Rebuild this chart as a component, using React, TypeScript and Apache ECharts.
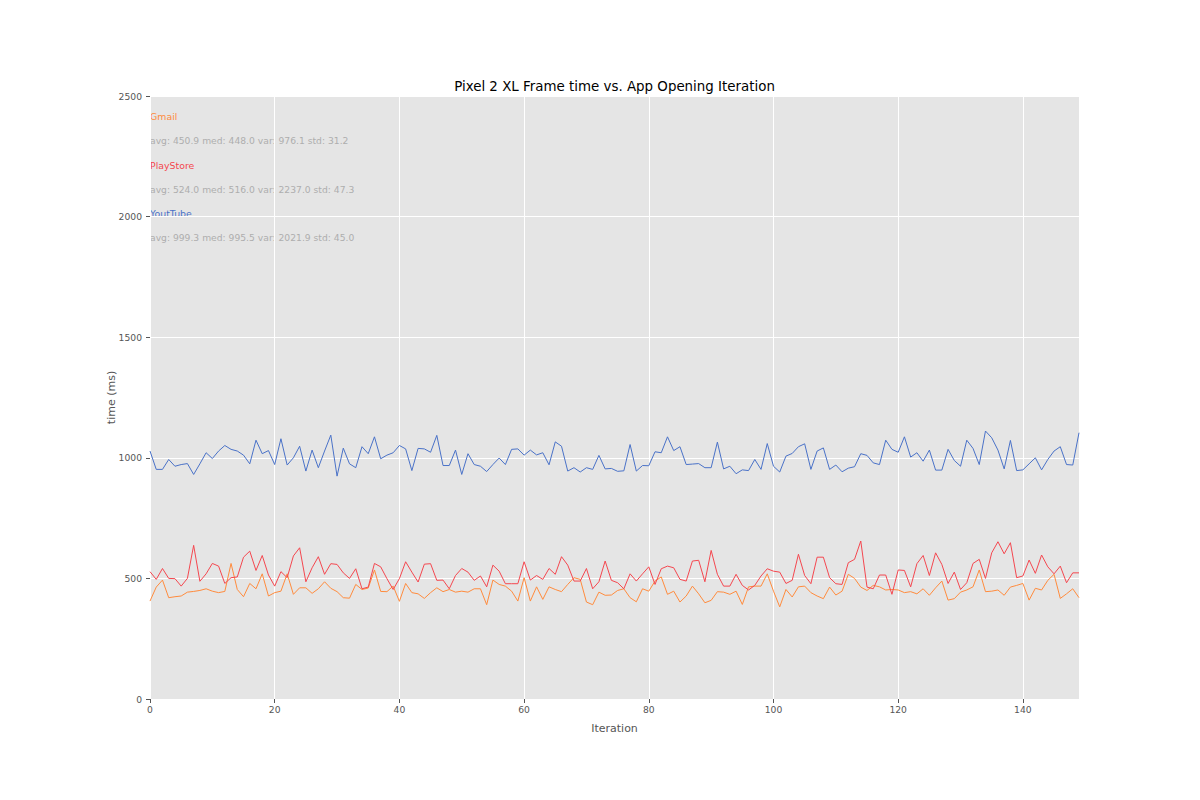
import React, { useEffect, useRef } from "react";
import * as echarts from "echarts";

const iterations: number[] = Array.from({ length: 150 }, (_, i) => i);

const gmail: number[] = [
  406, 464, 493, 420, 424, 427, 443, 446, 450, 457,
  447, 441, 446, 562, 454, 424, 479, 457, 519, 427,
  441, 447, 519, 434, 461, 461, 438, 457, 486, 459,
  445, 420, 418, 475, 454, 460, 535, 446, 445, 468,
  405, 479, 441, 436, 417, 441, 461, 445, 454, 443,
  447, 443, 457, 457, 391, 493, 475, 468, 447, 406,
  503, 406, 465, 413, 465, 454, 445, 475, 503, 496,
  402, 391, 443, 430, 431, 450, 457, 420, 403, 457,
  447, 489, 506, 434, 447, 402, 427, 468, 436, 399,
  409, 445, 443, 434, 447, 392, 465, 468, 468, 519,
  447, 382, 454, 423, 465, 468, 441, 427, 416, 464,
  431, 447, 517, 500, 464, 450, 471, 465, 452, 454,
  452, 441, 445, 436, 457, 430, 461, 489, 410, 416,
  443, 452, 465, 535, 445, 447, 452, 430, 464, 471,
  479, 410, 459, 452, 492, 517, 417, 436, 457, 420,
];

const playStore: number[] = [
  528, 496, 541, 500, 499, 468, 500, 637, 488, 519,
  562, 551, 479, 503, 506, 588, 613, 533, 595, 514,
  468, 528, 503, 593, 627, 486, 544, 590, 517, 561,
  558, 523, 500, 540, 457, 464, 562, 548, 499, 454,
  499, 569, 526, 485, 559, 561, 492, 493, 457, 512,
  541, 526, 492, 510, 465, 555, 530, 478, 478, 478,
  569, 493, 512, 496, 541, 517, 590, 555, 489, 489,
  541, 457, 486, 572, 492, 482, 457, 519, 489, 519,
  548, 475, 540, 551, 544, 496, 489, 572, 575, 486,
  616, 517, 468, 468, 517, 471, 452, 471, 510, 540,
  530, 526, 479, 492, 600, 512, 478, 588, 588, 503,
  478, 475, 565, 579, 655, 464, 457, 514, 514, 434,
  535, 533, 465, 561, 595, 512, 606, 558, 479, 526,
  454, 482, 562, 579, 500, 606, 652, 602, 648, 503,
  510, 576, 521, 597, 548, 519, 551, 482, 523, 523,
];

const youTube: number[] = [
  1028, 952, 952, 993, 965, 972, 976, 931, 975, 1021,
  997, 1028, 1051, 1035, 1028, 1011, 975, 1073, 1017, 1030,
  972, 1079, 970, 1000, 1048, 945, 1032, 959, 1028, 1094,
  924, 1040, 975, 959, 1046, 1017, 1087, 996, 1011, 1021,
  1051, 1037, 947, 1039, 1037, 1023, 1093, 968, 968, 1032,
  931, 1017, 972, 965, 943, 972, 999, 972, 1035, 1037,
  1011, 1032, 1012, 1021, 971, 1066, 1048, 945, 959, 941,
  959, 952, 1010, 954, 956, 944, 946, 1055, 945, 968,
  967, 1025, 1021, 1087, 1030, 1046, 972, 974, 976, 959,
  959, 1065, 954, 965, 934, 950, 947, 993, 952, 1059,
  965, 941, 1007, 1018, 1046, 1058, 952, 1028, 1041, 952,
  970, 942, 957, 963, 1017, 1010, 979, 972, 1073, 1035,
  1023, 1087, 1003, 1021, 986, 1032, 949, 949, 1035, 989,
  965, 1073, 1039, 972, 1111, 1083, 1032, 954, 1072, 947,
  950, 975, 1000, 950, 993, 1028, 1046, 972, 970, 1104,
];

const seriesNames: string[] = ["Gmail", "PlayStore", "YoutTube"];
const seriesColors: string[] = ["#FF8B3D", "#F4474F", "#4A72C8"];
const statLines: string[] = [
  "avg: 450.9 med: 448.0 var: 976.1 std: 31.2",
  "avg: 524.0 med: 516.0 var: 2237.0 std: 47.3",
  "avg: 999.3 med: 995.5 var: 2021.9 std: 45.0",
];
const yTicks: number[] = [0, 500, 1000, 1500, 2000, 2500];

const FONT = "DejaVu Sans";

export default function App() {
  const ref = useRef<HTMLDivElement | null>(null);

  useEffect(() => {
    if (!ref.current) return;
    const chart = echarts.init(ref.current, null, { renderer: "svg" });
    const allData = [gmail, playStore, youTube];

    const textGraphics: any[] = [];
    seriesNames.forEach((name, k) => {
      textGraphics.push({
        type: "text",
        left: 150,
        top: 112 + k * 48.5,
        style: {
          text: name,
          fill: seriesColors[k],
          font: `9.4px "${FONT}"`,
        },
      });
      textGraphics.push({
        type: "text",
        left: 150,
        top: 136 + k * 48.5,
        style: {
          text: statLines[k],
          fill: "#AEAEAE",
          font: `9.2px "${FONT}"`,
        },
      });
    });
    textGraphics.push({
      type: "text",
      x: 614.5,
      y: 86,
      style: {
        text: "Pixel 2 XL Frame time vs. App Opening Iteration",
        fill: "#000000",
        font: `13.4px "${FONT}"`,
        textAlign: "center",
        textVerticalAlign: "middle",
      },
    });

    chart.setOption({
      animation: false,
      backgroundColor: "#FFFFFF",
      textStyle: { fontFamily: FONT },
      grid: {
        left: 150,
        right: 121,
        top: 96,
        bottom: 101,
        show: true,
        backgroundColor: "#E5E5E5",
        borderWidth: 0,
      },
      xAxis: {
        type: "value",
        min: 0,
        max: 149,
        interval: 20,
        name: "Iteration",
        nameLocation: "middle",
        nameGap: 24,
        nameMoveOverlap: false,
        nameTextStyle: { color: "#555555", fontSize: 11, fontFamily: FONT },
        axisLine: { show: false },
        axisTick: { show: true, length: 4, lineStyle: { color: "#555555" } },
        axisLabel: {
          color: "#555555",
          fontSize: 9.2,
          fontFamily: FONT,
          margin: 6,
          showMaxLabel: false,
          formatter: (v: number) => String(v),
        },
        splitLine: { show: true, lineStyle: { color: "#FFFFFF", width: 1 } },
      },
      yAxis: {
        type: "value",
        min: yTicks[0],
        max: yTicks[yTicks.length - 1],
        interval: 500,
        name: "time (ms)",
        nameLocation: "middle",
        nameGap: 33,
        nameMoveOverlap: false,
        nameTextStyle: { color: "#555555", fontSize: 11, fontFamily: FONT },
        axisLine: { show: false },
        axisTick: { show: true, length: 4, lineStyle: { color: "#555555" } },
        axisLabel: {
          color: "#555555",
          fontSize: 9.2,
          fontFamily: FONT,
          margin: 8,
          formatter: (v: number) => String(v),
        },
        splitLine: { show: true, lineStyle: { color: "#FFFFFF", width: 1 } },
      },
      series: allData.map((d, k) => ({
        type: "line",
        name: seriesNames[k],
        data: iterations.map((it, i) => [it, d[i]]),
        showSymbol: false,
        symbol: "none",
        lineStyle: { color: seriesColors[k], width: 1 },
        itemStyle: { color: seriesColors[k] },
        z: 2 + k,
      })),
      graphic: textGraphics,
    });

    return () => {
      chart.dispose();
    };
  }, []);

  return (
    <div
      ref={ref}
      style={{ position: "absolute", left: 0, top: 0, width: 1200, height: 800 }}
    />
  );
}
